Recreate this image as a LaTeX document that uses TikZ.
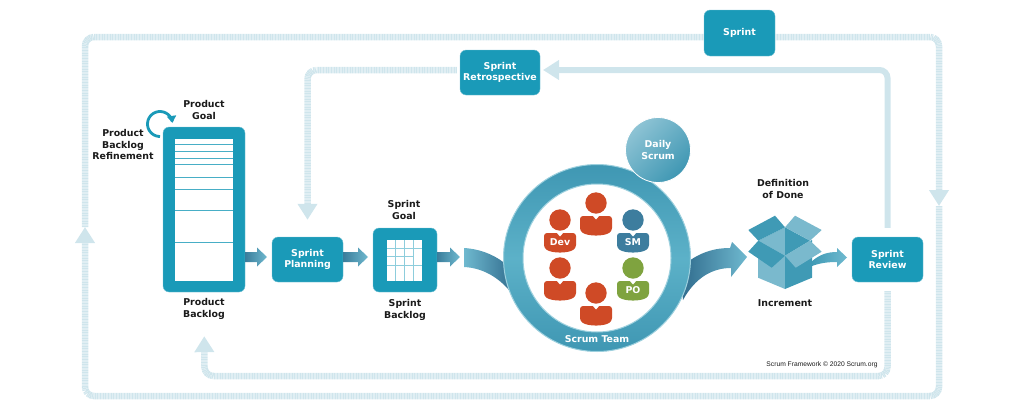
\documentclass[tikz,border=0pt]{standalone}
\usepackage{fontspec}
\setmainfont{DejaVu Sans}
\newfontfamily\notefont{Liberation Sans}
\usetikzlibrary{arrows.meta}

\definecolor{scrumblue}{HTML}{1A9AB8}
\definecolor{looplight}{HTML}{CFE5EC}
\definecolor{ringdark}{HTML}{3F97B3}
\definecolor{ringlight}{HTML}{5CB1C8}
\definecolor{flowdark}{HTML}{3A7D9B}
\definecolor{flowlight}{HTML}{6FB9CF}
\definecolor{ribbondark}{HTML}{2F6A8C}
\definecolor{boxdark}{HTML}{3F9AB5}
\definecolor{boxlight}{HTML}{7AB9CD}
\definecolor{devred}{HTML}{CF4A26}
\definecolor{smblue}{HTML}{3D7D9E}
\definecolor{pogreen}{HTML}{7FA33F}
\definecolor{labelink}{HTML}{1A1A1A}

\tikzset{
  bluebox/.style={fill=scrumblue, draw=scrumblue!60, line width=0.4pt, rounded corners=6pt, text=white,
    align=center, inner sep=0pt, font=\fontsize{9.4}{11.5}\selectfont\bfseries},
  looplabel/.style={text=labelink, align=center, inner sep=0pt, font=\fontsize{9.4}{11.5}\selectfont\bfseries},
  whitelabel/.style={text=white, align=center, inner sep=0pt, font=\fontsize{9.4}{11.5}\selectfont\bfseries},
  hatchline/.style={draw=looplight, line width=6.5pt, rounded corners=9pt, dash pattern=on 1.1pt off 0.5pt},
  solidline/.style={draw=looplight, line width=6pt, rounded corners=8pt},
  looptip/.style={-{Triangle[length=16pt,width=19pt]}},
  flowshade/.style={left color=flowdark, right color=flowlight}
}

% block arrow, from named coordinate #1 to named coordinate #2
\newcommand{\flowarrow}[2]{
  \shade[flowshade] ([shift={(0,-5)}]#1) -- ([shift={(-10,-5)}]#2) -- ([shift={(-10,-9.5)}]#2)
    -- (#2) -- ([shift={(-10,9.5)}]#2) -- ([shift={(-10,5)}]#2) -- ([shift={(0,5)}]#1) -- cycle;
}
% name, x, y, colour, label
\newcommand{\teamperson}[5]{
  \begin{scope}[shift={(#2,#3)}]
    \fill[#4] (0,0) circle[radius=10.7];
    \fill[#4, rounded corners=3pt] (-16,13) -- (-16,28) .. controls (-8,33.5) and (8,33.5) .. (16,28)
      -- (16,13) -- cycle;
    \fill[white] (-3.5,12.5) -- (0,16.5) -- (3.5,12.5) -- cycle;
    \node[whitelabel] (#1) at (0,22.5) {#5};
  \end{scope}
}

\begin{document}
\begin{tikzpicture}[x=1pt, y=-1pt]
\useasboundingbox (0,0) rectangle (1024,415);

% Boxes
\node[bluebox, minimum width=71pt, minimum height=46pt] (sprint) at (739.5,33) {\raisebox{-1.5pt}{Sprint}};
\node[bluebox, minimum width=80pt, minimum height=45pt] (retro) at (500,72.5) {Sprint\\Retrospective};
\node[bluebox, minimum width=82pt, minimum height=165pt] (backlog) at (204,209.5) {};
\node[bluebox, minimum width=71pt, minimum height=45pt] (planning) at (307.5,259.5) {Sprint\\Planning};
\node[bluebox, minimum width=64pt, minimum height=64pt] (sprintbacklog) at (405,260) {};
\node[bluebox, minimum width=71pt, minimum height=45pt] (review) at (887.5,259.5) {Sprint\\Review};

% Loop lines
\coordinate (loopnw) at (85,37);
\coordinate (loopse) at (939,396);
\coordinate (downtip) at (939,206);
\coordinate (uptip) at (85,227);
\coordinate (retrotip) at (543,70);
\coordinate (lowcorner) at (204.5,376);
\draw[hatchline, looptip] (sprint.east |- loopnw) -| (downtip);
\draw[hatchline, looptip] (downtip) -- (loopse) -- (uptip |- loopse) -- (uptip);
\draw[hatchline] (uptip) |- (sprint.west |- loopnw);
\draw[solidline, looptip, shorten <=9pt] (review.north) |- (retrotip);
\draw[hatchline, looptip, shorten <=3pt, shorten >=17pt] (retro.west |- retrotip) -| (planning.north);
\draw[hatchline, looptip, shorten <=9pt, shorten >=44pt] (review.south) |- (lowcorner) -- (backlog.south);

% Product backlog
\fill[white] (175,139) rectangle (233,281);
\foreach \rowy in {144,151,158,164,177,189,210,242}
  \draw[scrumblue!80!white, line width=1pt] (175,\rowy) -- (233,\rowy);
\draw[scrumblue, line width=2.8pt, -{Triangle[length=7pt,width=9pt]}]
  plot[smooth, samples=30, domain=90:355] ({160+12.5*cos(\x)},{124+12.5*sin(\x)});

% Sprint backlog grid
\fill[scrumblue!50!white] (387,240) rectangle (422,281);
\foreach \cellx in {387,396,405,414}
  \foreach \celly in {240,248.5,257}
    \fill[white] (\cellx,\celly) rectangle ++(8,7.5);
\foreach \cellx in {387,396,405,414}
  \fill[white] (\cellx,265.5) rectangle ++(8,15.5);
\fill[white] (414,248.5) rectangle (422,264);

% Flow arrows
\coordinate (tipplanning) at (267,257);
\coordinate (tipbacklog) at (368,257);
\coordinate (tipribbon) at (460,257);
\flowarrow{backlog.east |- tipplanning}{tipplanning}
\flowarrow{planning.east |- tipbacklog}{tipbacklog}
\flowarrow{sprintbacklog.east |- tipribbon}{tipribbon}

% Ribbons into and out of the team
\shade[left color=flowlight, right color=ribbondark] (464,248) .. controls (480,249) and (497,255) .. (510,268)
  -- (515,298) .. controls (503,280) and (485,268) .. (464,267) -- cycle;
\shade[left color=ribbondark, right color=flowlight] (680,268) .. controls (695,255) and (710,248) .. (730,248)
  -- (732,242) -- (747,257) -- (731,277) -- (731,268) .. controls (712,268) and (695,278) .. (683,300) -- cycle;

% Team ring
\node[circle, draw=ringlight!60, line width=1pt, minimum size=187pt, inner sep=0pt,
  top color=ringdark, bottom color=ringdark, middle color=ringlight] (ring) at (597,258) {};
\node[circle, draw=ringlight!60, line width=1pt, fill=white, minimum size=148pt, inner sep=0pt] (ringinner) at (597,258) {};
\node[whitelabel] (teamlabel) at (597,339) {Scrum Team};
\node[circle, draw=white, line width=0.8pt, minimum size=65pt, inner sep=0pt, whitelabel,
  shading=axis, top color=boxlight!85!white, bottom color=ringdark, shading angle=45] (daily) at (658,150) {Daily\\Scrum};

% People
\teamperson{persontop}{596}{203}{devred}{}
\teamperson{persondev}{560}{220}{devred}{Dev}
\teamperson{personsm}{633}{220}{smblue}{SM}
\teamperson{personleft}{560}{268}{devred}{}
\teamperson{personpo}{633}{268}{pogreen}{PO}
\teamperson{personlow}{596}{293}{devred}{}

% Increment box
\fill[boxlight] (758,240) -- (785,256) -- (785,289) -- (758,277.7) -- cycle;
\fill[boxdark] (812,240) -- (785,256) -- (785,289) -- (812,277.7) -- cycle;
\fill[boxlight] (758.3,240.7) -- (785,227.3) -- (785,255.7) -- cycle;
\fill[boxdark] (810,240.7) -- (785,227.3) -- (785,255.7) -- cycle;
\fill[boxdark] (748.3,230) -- (775,215.7) -- (785,227.3) -- (758.3,240.7) -- cycle;
\fill[boxlight] (785,227.3) -- (795,215.7) -- (821.7,230) -- (810,240.7) -- cycle;
\fill[boxdark] (748.3,251.7) -- (758.3,240.7) -- (785,255.7) -- (771.7,267.7) -- cycle;
\fill[boxlight] (785,255.7) -- (810,240.7) -- (821.7,251.7) -- (795.7,267.7) -- cycle;
\coordinate (tipreview) at (847,257.5);
\shade[left color=boxdark, right color=flowlight] (811,262) .. controls (820,254) and (828,252) .. (837,252) -- (837,248) -- (tipreview)
  -- (837,267) -- (837,262) .. controls (828,262) and (820,263) .. (812,266) -- cycle;

% Labels
\node[looplabel] (goallabel) at (204,110) {Product\\Goal};
\node[looplabel] (refinelabel) at (123,144.5) {Product\\Backlog\\Refinement};
\node[looplabel] (backloglabel) at (204,309) {Product\\Backlog};
\node[looplabel] (sgoallabel) at (404,210) {Sprint\\Goal};
\node[looplabel] (sbackloglabel) at (405,310) {Sprint\\Backlog};
\node[looplabel] (donelabel) at (783,189) {Definition\\of Done};
\node[looplabel] (incrementlabel) at (785,303.5) {Increment};
\node[text=labelink, inner sep=0pt, font=\fontsize{6.7}{8}\notefont] (copyright) at (822,365) {Scrum Framework © 2020 Scrum.org};
\end{tikzpicture}
\end{document}
